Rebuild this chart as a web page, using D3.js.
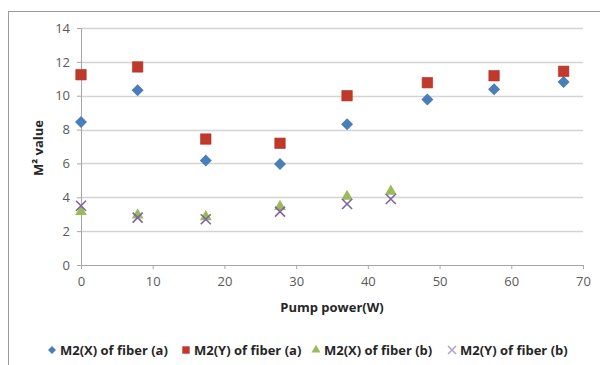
<!DOCTYPE html>
<html><head><meta charset="utf-8">
<script src="https://cdn.jsdelivr.net/npm/d3@7"></script>
<style>body{margin:0;background:#fff}svg{display:block}text{font-family:"Open Sans",sans-serif}</style>
</head><body><svg id="c" width="600" height="365"></svg>
<script>
const power = [0, 7.9, 17.4, 27.75, 37.1, 48.3, 57.6, 67.3];
const powerB = [0, 7.9, 17.4, 27.75, 37.1, 43.2];
const m2xA = [8.45, 10.32, 6.18, 5.97, 8.31, 9.77, 10.38, 10.81];
const m2yA = [11.24, 11.7, 7.44, 7.19, 10.0, 10.77, 11.18, 11.44];
const m2xB = [3.15, 2.95, 2.85, 3.45, 4.05, 4.35];
const m2yB = [3.5, 2.8, 2.7, 3.15, 3.6, 3.9];
const xTicks = [0, 10, 20, 30, 40, 50, 60, 70];
const yTicks = [0, 2, 4, 6, 8, 10, 12, 14];
const seriesNames = ["M2(X) of fiber (a)", "M2(Y) of fiber (a)", "M2(X) of fiber (b)", "M2(Y) of fiber (b)"];
const colors = ["#4a7ebb", "#c0392b", "#9bbb59", "#8064a2"];

const svg = d3.select("#c");
const x = d3.scaleLinear().domain([0, 70]).range([81, 583]);
const y = d3.scaleLinear().domain([0, 14]).range([265, 28]);

// frame
svg.append("rect").attr("x", 8.5).attr("y", 11.5).attr("width", 620).attr("height", 380)
  .attr("fill", "none").attr("stroke", "#9a9a9a").attr("stroke-width", 1);

// gridlines
svg.append("g").selectAll("line").data(yTicks.filter(d => d > 0)).join("line")
  .attr("x1", x(0)).attr("x2", x(70)).attr("y1", d => Math.round(y(d)) + 0.5).attr("y2", d => Math.round(y(d)) + 0.5)
  .attr("stroke", "#d4d4d4").attr("stroke-width", 1.5);

// axes
const ya = svg.append("g").attr("transform", `translate(${x(0)},0)`)
  .call(d3.axisLeft(y).tickValues(yTicks).tickSize(4).tickPadding(7).tickFormat(d3.format("d")));
const xa = svg.append("g").attr("transform", `translate(0,${y(0)})`)
  .call(d3.axisBottom(x).tickValues(xTicks).tickSize(4).tickPadding(8).tickFormat(d3.format("d")));
[ya, xa].forEach(a => {
  a.select(".domain").attr("stroke", "#a6a6a6");
  a.selectAll(".tick line").attr("stroke", "#a6a6a6");
  a.selectAll("text").attr("fill", "#595959").style("font-size", "13px");
});

// axis titles
svg.append("text").attr("x", 332).attr("y", 312).attr("text-anchor", "middle")
  .style("font-size", "13px").style("font-weight", "bold").attr("fill", "#262626").text("Pump power(W)");
svg.append("text").attr("transform", "translate(43,148) rotate(-90)").attr("text-anchor", "middle")
  .style("font-size", "13px").style("font-weight", "bold").attr("fill", "#262626").text("M² value");

// markers
const diamondPath = r => `M0,${-r}L${r},0L0,${r}L${-r},0Z`;
const square = d3.symbol().type(d3.symbolSquare).size(110);
const tri = d3.symbol().type(d3.symbolTriangle).size(60);

function xMark(g, px, py, s, c) {
  g.append("path").attr("d", `M${px - s},${py - s}L${px + s},${py + s}M${px - s},${py + s}L${px + s},${py - s}`)
    .attr("stroke", c).attr("stroke-width", 1.6).attr("fill", "none");
}

const gA = svg.append("g");
gA.selectAll(".d").data(power).join("path").attr("class", "d")
  .attr("transform", (d, i) => `translate(${x(d)},${y(m2xA[i])})`).attr("d", diamondPath(6)).attr("fill", colors[0]);
gA.selectAll(".s").data(power).join("path").attr("class", "s")
  .attr("transform", (d, i) => `translate(${x(d)},${y(m2yA[i])})`).attr("d", square)
  .attr("fill", colors[1]).attr("stroke", "#a93226").attr("stroke-width", 0.6);
const gB = svg.append("g");
gB.selectAll(".t").data(powerB).join("path").attr("class", "t")
  .attr("transform", (d, i) => `translate(${x(d)},${y(m2xB[i])})`).attr("d", tri).attr("fill", colors[2]);
powerB.forEach((d, i) => xMark(gB, x(d), y(m2yB[i]), 5, colors[3]));

// legend
const legX = [52, 186, 316, 452];
const lg = svg.append("g");
seriesNames.forEach((n, i) => {
  const cx = legX[i], cy = 350;
  if (i === 0) lg.append("path").attr("transform", `translate(${cx},${cy})`).attr("d", diamondPath(4)).attr("fill", colors[0]);
  if (i === 1) lg.append("path").attr("transform", `translate(${cx},${cy})`).attr("d", d3.symbol().type(d3.symbolSquare).size(55)).attr("fill", colors[1]);
  if (i === 2) lg.append("path").attr("transform", `translate(${cx},${cy})`).attr("d", d3.symbol().type(d3.symbolTriangle).size(35)).attr("fill", colors[2]);
  if (i === 3) xMark(lg, cx, cy, 4, "#b0a6c8");
  lg.append("text").attr("x", cx + 8).attr("y", cy + 4.5).style("font-size", "13px").style("font-weight", "bold")
    .attr("fill", "#262626").text(n);
});
</script></body></html>
